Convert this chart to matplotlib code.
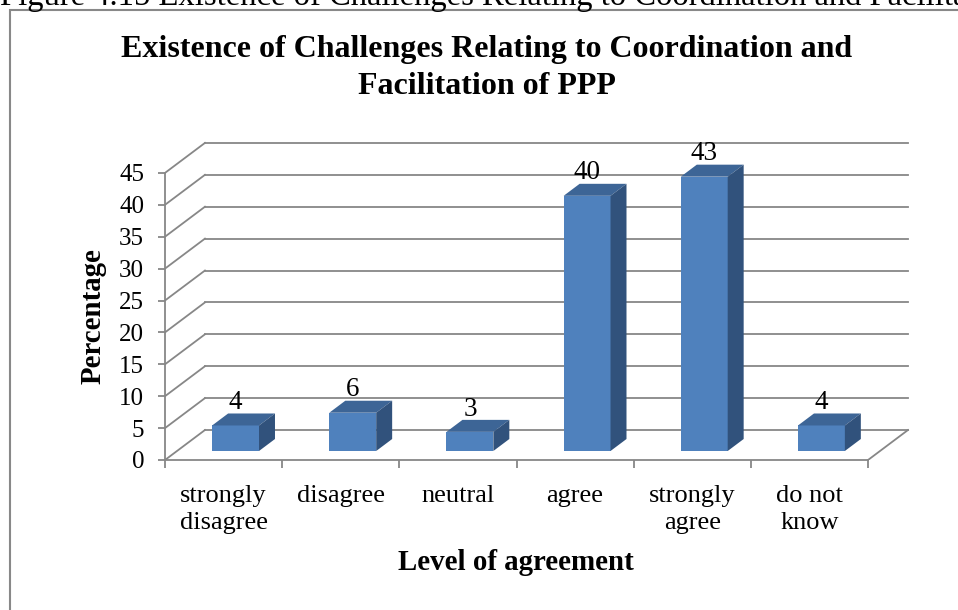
import matplotlib
matplotlib.use("Agg")
import matplotlib.pyplot as plt
from matplotlib.patches import Polygon, Rectangle

categories = ["strongly\ndisagree", "disagree", "neutral", "agree", "strongly\nagree", "do not\nknow"]
percentages = [4, 6, 3, 40, 43, 4]
y_ticks = [0, 5, 10, 15, 20, 25, 30, 35, 40, 45]

SERIF = ["Liberation Serif", "DejaVu Serif"]
plt.rcParams["font.family"] = SERIF

W, H = 958, 610
fig = plt.figure(figsize=(W / 100, H / 100), dpi=100)

# axes placed so that the front plane maps onto the reference pixels
x0, x1 = -0.5, 5.9
y0, y1 = 0, 50
ax_left, ax_right = 165, 165 + (x1 - x0) * 117.17
ax_bottom, ax_top = 460, 460 - (y1 - y0) * 6.38
ax = fig.add_axes([ax_left / W, 1 - ax_bottom / H,
                   (ax_right - ax_left) / W, (ax_bottom - ax_top) / H])
ax.set_xlim(x0, x1)
ax.set_ylim(y0, y1)

# oblique depth offset (full depth of the plot box), in data units
DX, DY = 0.341, 4.70
grid_col = "#878787"

# side and back wall gridlines
for v in y_ticks:
    ax.plot([-0.5, -0.5 + DX], [v, v + DY], color=grid_col, lw=1.3, zorder=1)
    ax.plot([-0.5 + DX, len(categories) - 0.5 + DX], [v + DY, v + DY],
            color=grid_col, lw=1.3, zorder=1)
# floor right edge
ax.plot([len(categories) - 0.5, len(categories) - 0.5 + DX], [0, DY],
        color=grid_col, lw=1.3, zorder=1)

# 3d bars
front_col, top_col, side_col = "#4F81BD", "#3D6596", "#31527C"
t0, depth, half_w = 0.3, 0.4, 0.2
ddx, ddy = depth * DX, depth * DY
for i, v in enumerate(percentages):
    xl = i - half_w + t0 * DX
    xr = i + half_w + t0 * DX
    yb = t0 * DY
    yt = v + t0 * DY
    ax.add_patch(Rectangle((xl, yb), xr - xl, yt - yb, fc=front_col, ec="none", zorder=3))
    ax.add_patch(Polygon([(xl, yt), (xr, yt), (xr + ddx, yt + ddy), (xl + ddx, yt + ddy)],
                         closed=True, fc=top_col, ec="none", zorder=3))
    ax.add_patch(Polygon([(xr, yb), (xr + ddx, yb + ddy), (xr + ddx, yt + ddy), (xr, yt)],
                         closed=True, fc=side_col, ec="none", zorder=3))
    ax.text(i + t0 * DX, v + (t0 + depth) * DY + 1.7, str(v), ha="center", va="center",
            fontsize=19.5, zorder=4)

# front axes
for s in ["top", "right"]:
    ax.spines[s].set_visible(False)
ax.spines["left"].set_bounds(0, 45)
ax.spines["bottom"].set_bounds(-0.5, len(categories) - 0.5)
for s in ["left", "bottom"]:
    ax.spines[s].set_color(grid_col)
    ax.spines[s].set_linewidth(1.3)
ax.set_yticks(y_ticks)
ax.set_yticklabels([str(t) for t in y_ticks], fontsize=18)
ax.tick_params(axis="y", length=5, width=1.3, color=grid_col, pad=10)
ax.set_xticks([i - 0.5 for i in range(len(categories) + 1)])
ax.set_xticklabels([])
ax.tick_params(axis="x", which="major", length=6, width=1.3, color=grid_col, direction="out")
ax.set_xticks(range(len(categories)), minor=True)
ax.set_xticklabels(categories, minor=True, fontsize=19, linespacing=1.27)
ax.tick_params(axis="x", which="minor", length=0, pad=18)
ax.patch.set_visible(False)

# titles
fig.text(487 / W, 1 - 50 / H, "Existence of Challenges Relating to Coordination and",
         ha="center", va="center", fontsize=23, fontweight="bold")
fig.text(487 / W, 1 - 87 / H, "Facilitation of PPP",
         ha="center", va="center", fontsize=23, fontweight="bold")
fig.text(93 / W, 1 - 316 / H, "Percentage", rotation=90, ha="center", va="center",
         fontsize=20.8, fontweight="bold")
fig.text(516 / W, 1 - 563 / H, "Level of agreement", ha="center", va="center",
         fontsize=20.8, fontweight="bold")

# document caption cut off by the crop, and the chart frame
fig.text(0.0, 1 - 5 / H, "Figure 4.15 Existence of Challenges Relating to Coordination and Facilitation of PPP",
         ha="left", va="baseline", fontsize=23.5)
fig.add_artist(Rectangle((9.5 / W, -0.1), 1.2, 1 - 10 / H + 0.1, transform=fig.transFigure,
                         fill=False, ec="#888888", lw=1.5))

fig.savefig("out.png", dpi=100)
